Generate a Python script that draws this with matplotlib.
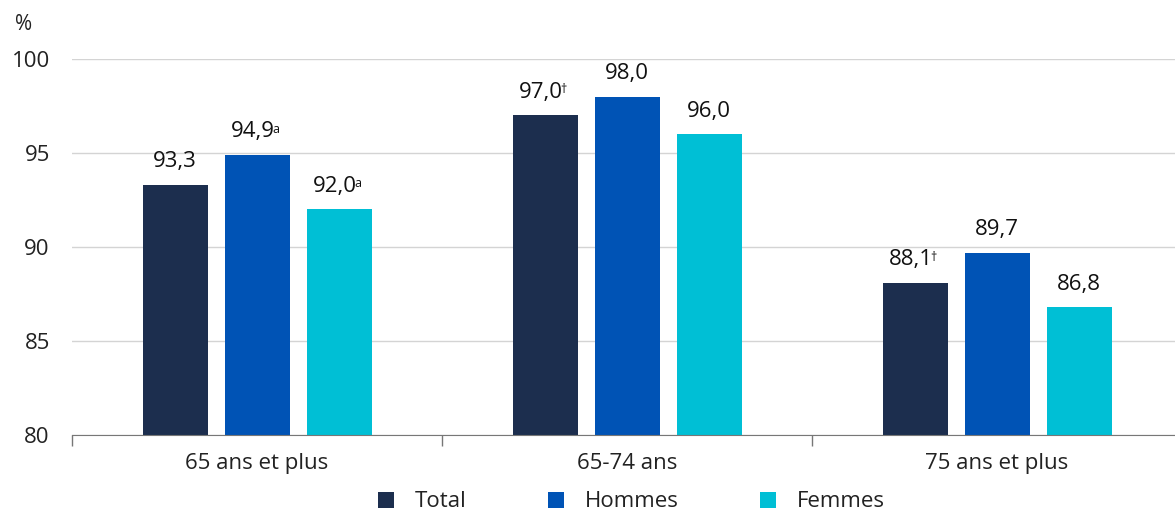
import numpy as np
import matplotlib.pyplot as plt

plt.rcParams['font.family'] = ['Open Sans', 'DejaVu Sans']

categories = ['65 ans et plus', '65-74 ans', '75 ans et plus']
series = ['Total', 'Hommes', 'Femmes']
total = [93.3, 97.0, 88.1]
hommes = [94.9, 98.0, 89.7]
femmes = [92.0, 96.0, 86.8]
notes_total = ['', '†', '†']
notes_hommes = ['a', '', '']
notes_femmes = ['a', '', '']
colors = ['#1c2e4e', '#0053b5', '#00bfd5']

fig = plt.figure(figsize=(11.75, 5.14), dpi=100)
ax = fig.add_axes([72 / 1175, 1 - 435 / 514, 1 - 72 / 1175, 376 / 514])

x = np.arange(len(categories))
w = 65 / 370
step = 82 / 370
for i, (vals, notes) in enumerate([(total, notes_total), (hommes, notes_hommes), (femmes, notes_femmes)]):
    pos = x + (i - 1) * step
    ax.bar(pos, np.array(vals) - 80, bottom=80, width=w, color=colors[i], label=series[i], zorder=3)
    for px, v, n in zip(pos, vals, notes):
        s = f'{v:.1f}'.replace('.', ',')
        dx = -3 if n else 0
        lab = ax.annotate(s, (px, v), xytext=(dx, 9), textcoords='offset points',
                          ha='center', va='bottom', fontsize=16, color='#111111')
        if n:
            ax.annotate(n, xy=(1, 0.93), xycoords=lab, xytext=(-1.5, 0), textcoords='offset points',
                        ha='left', va='top', fontsize=9, color='#111111')

ax.set_ylim(80, 100)
ax.set_xlim(-0.5, 2.5 - 7 / 370)
ax.set_yticks([80, 85, 90, 95, 100])
ax.yaxis.grid(True, color='#d4d4d4', linewidth=1, zorder=0)
ax.tick_params(axis='y', length=0, pad=16, labelsize=16, labelcolor='#222222')
ax.set_xticks(x)
ax.set_xticklabels(categories)
ax.set_xticks([-0.5, 0.5, 1.5], minor=True)
ax.tick_params(axis='x', which='major', length=0, pad=13, labelsize=16, labelcolor='#222222')
ax.tick_params(axis='x', which='minor', length=8, color='#777777', width=1)
for sp in ['top', 'right', 'left']:
    ax.spines[sp].set_visible(False)
ax.spines['bottom'].set_color('#777777')
ax.spines['bottom'].set_zorder(4)

fig.text(15 / 1175, 1 - 25 / 514, '%', fontsize=15, color='#222222', va='center', ha='left')

ax.legend(loc='center', bbox_to_anchor=(0.507, -0.178), ncol=3, frameon=False, fontsize=16,
          handlelength=0.72, handleheight=0.72, handletextpad=0.95, columnspacing=3.65,
          labelcolor='#222222', borderpad=0.1)

fig.savefig('out.png', dpi=100)
